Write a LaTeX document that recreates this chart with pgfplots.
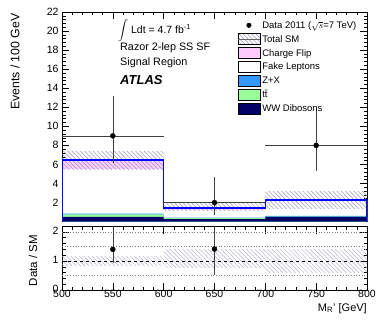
\documentclass[border=0pt]{standalone}
\usepackage{fontspec}
\setmainfont{Liberation Sans}
\usepackage{pgfplots}
\pgfplotsset{compat=1.18}
\usetikzlibrary{patterns.meta}

\definecolor{cfpink}{RGB}{255,204,255}
\definecolor{zxblue}{RGB}{51,153,255}
\definecolor{ttgreen}{RGB}{153,255,153}
\definecolor{wwnavy}{RGB}{0,0,102}
\definecolor{hatchc}{RGB}{150,150,200}

\pgfplotsset{
  rootstyle/.style={
    scale only axis, width=305pt,
    xmin=500, xmax=800,
    tick align=inside, major tick length=7pt, minor tick length=3.5pt,
    tick style={black, line width=0.5pt},
    axis line style={line width=0.8pt},
    ticklabel style={font=\fontsize{10.5}{12}\selectfont},
    /pgf/number format/assume math mode=true,
    xtick={500,550,...,800}, minor x tick num=4,
  },
}

\begin{document}
\begin{tikzpicture}
\useasboundingbox (0,0) rectangle (390pt,321pt);

% upper panel
\begin{axis}[rootstyle,
  at={(62pt,99.4pt)}, anchor=south west, height=209.6pt,
  ymin=0, ymax=22,
  ytick={2,4,...,22}, minor ytick={0,0.4,...,22},
  xticklabels={},
  legend style={at={(0.565,0.975)}, anchor=north west, draw=none, fill=none,
    font=\fontsize{9.5}{11}\selectfont, row sep=1.3pt},
  legend cell align=left,
]
% stacked backgrounds, drawn as cumulative tops
\addplot[forget plot, const plot, fill=cfpink, draw=none]
  coordinates {(500,6.44) (600,1.42) (700,2.28) (800,2.28)} \closedcycle;
\addplot[forget plot, const plot, fill=white, draw=none]
  coordinates {(500,5.5) (600,1.22) (700,2.28) (800,2.28)} \closedcycle;
\addplot[forget plot, const plot, fill=zxblue, draw=none]
  coordinates {(500,0.85) (600,0.42) (700,0.6) (800,0.6)} \closedcycle;
\addplot[forget plot, const plot, fill=ttgreen, draw=none]
  coordinates {(500,0.77) (600,0.38) (700,0.52) (800,0.52)} \closedcycle;
\addplot[forget plot, const plot, fill=wwnavy, draw=none]
  coordinates {(500,0.5) (600,0.25) (700,0.5) (800,0.5)} \closedcycle;

% total SM uncertainty band
\addplot[forget plot, draw=none, pattern={Lines[angle=-45,distance=3pt,line width=0.5pt]}, pattern color=hatchc]
  coordinates {(500,5.5) (600,5.5) (600,7.4) (500,7.4)} -- cycle;
\addplot[forget plot, draw=none, pattern={Lines[angle=-45,distance=3pt,line width=0.5pt]}, pattern color=hatchc]
  coordinates {(600,1.15) (700,1.15) (700,2.0) (600,2.0)} -- cycle;
\addplot[forget plot, draw=none, pattern={Lines[angle=-45,distance=3pt,line width=0.5pt]}, pattern color=hatchc]
  coordinates {(700,1.4) (800,1.4) (800,3.2) (700,3.2)} -- cycle;

% total SM
\addplot[forget plot, blue, line width=1.6pt]
  coordinates {(500,0) (500,6.44) (600,6.44) (600,1.42) (700,1.42) (700,2.28) (800,2.28) (800,0)};

% data
\addplot[forget plot, only marks, mark=*, mark size=2.5pt, black,
  error bars/.cd, x dir=both, x explicit, y dir=both, y explicit,
  error mark=none, error bar style={line width=0.6pt, black!75}]
  coordinates {
    (550,9) += (50,4.2) -= (50,2.9)
    (650,2) += (50,2.64) -= (50,1.29)
    (750,8) += (50,3.8) -= (50,2.7)
  };

\addlegendimage{legend image code/.code={\fill[black] (11pt,0.5pt) circle (2.3pt);}}
\addlegendentry{Data 2011 ($\sqrt{s}$=7 TeV)}
\addlegendimage{legend image code/.code={\fill[pattern={Lines[angle=-45,distance=3pt,line width=0.5pt]}, pattern color=hatchc] (0pt,-5pt) rectangle (22pt,6pt); \draw[black!60, line width=0.8pt] (0pt,0.5pt) -- (22pt,0.5pt);}}
\addlegendentry{Total SM}
\addlegendimage{legend image code/.code={\draw[fill=cfpink, draw=black, line width=0.6pt] (0pt,-5pt) rectangle (22pt,6pt);}}
\addlegendentry{Charge Flip}
\addlegendimage{legend image code/.code={\draw[fill=white, draw=black, line width=0.6pt] (0pt,-5pt) rectangle (22pt,6pt);}}
\addlegendentry{Fake Leptons}
\addlegendimage{legend image code/.code={\draw[fill=zxblue, draw=black, line width=0.6pt] (0pt,-5pt) rectangle (22pt,6pt);}}
\addlegendentry{Z+X}
\addlegendimage{legend image code/.code={\draw[fill=ttgreen, draw=black, line width=0.6pt] (0pt,-5pt) rectangle (22pt,6pt);}}
\addlegendentry{t\={t}}
\addlegendimage{legend image code/.code={\draw[fill=wwnavy, draw=black, line width=0.6pt] (0pt,-5pt) rectangle (22pt,6pt);}}
\addlegendentry{WW Dibosons}
\end{axis}

% ratio panel
\begin{axis}[rootstyle,
  at={(62pt,31pt)}, anchor=south west, height=63.3pt,
  ymin=0, ymax=2.18,
  ytick={0,1,2}, minor ytick={0.2,0.4,0.6,0.8,1.2,1.4,1.6,1.8,2.2},
  xticklabel style={/pgf/number format/1000 sep=, yshift=3pt},
  yticklabel style={yshift=1pt},
]
\addplot[draw=none, pattern={Lines[angle=-45,distance=3pt,line width=0.5pt]}, pattern color=hatchc!70]
  coordinates {(500,0.85) (600,0.85) (600,1.15) (500,1.15)} -- cycle;
\addplot[draw=none, pattern={Lines[angle=-45,distance=3pt,line width=0.5pt]}, pattern color=hatchc!70]
  coordinates {(600,0.79) (700,0.79) (700,1.38) (600,1.38)} -- cycle;
\addplot[draw=none, pattern={Lines[angle=-45,distance=3pt,line width=0.5pt]}, pattern color=hatchc!70]
  coordinates {(700,0.61) (800,0.61) (800,1.4) (700,1.4)} -- cycle;
\addplot[black!50, dotted, line width=0.7pt] coordinates {(500,0.5) (800,0.5)};
\addplot[black!50, dotted, line width=0.7pt] coordinates {(500,1.5) (800,1.5)};
\addplot[black!50, dotted, line width=0.7pt] coordinates {(500,2) (800,2)};
\addplot[black, dashed, line width=0.6pt] coordinates {(500,1) (800,1)};
\addplot[only marks, mark=*, mark size=2.5pt, black,
  error bars/.cd, y dir=both, y explicit,
  error mark=none, error bar style={line width=0.6pt, black!75}]
  coordinates {
    (550,1.4) += (0,1.6) -= (0,0.46)
    (650,1.41) += (0,1.9) -= (0,0.91)
    (750,3.5) += (0,1.7) -= (0,1.2)
  };
\end{axis}

% labels and text
\node[rotate=90, anchor=east, font=\fontsize{12.3}{14}\selectfont] at (15pt,311pt) {Events / 100 GeV};
\node[rotate=90, anchor=center, font=\fontsize{11.5}{13}\selectfont] at (33pt,60.5pt) {Data / SM};
\node[anchor=north east, font=\fontsize{11}{13}\selectfont, inner sep=0pt] at (367pt,18pt) {M\textsubscript{R}' [GeV]};

\node[anchor=west, inner sep=0pt, font=\fontsize{10.5}{12}\selectfont] at (118pt,290pt) {$\displaystyle\int$ Ldt = 4.7 fb\textsuperscript{-1}};
\node[anchor=west, inner sep=0pt, font=\fontsize{10.8}{12}\selectfont] at (120pt,273pt) {Razor 2-lep SS SF};
\node[anchor=west, inner sep=0pt, font=\fontsize{10.8}{12}\selectfont] at (120pt,258pt) {Signal Region};
\node[anchor=west, inner sep=0pt, font=\fontsize{13}{15}\selectfont\bfseries\itshape] at (120pt,241pt) {ATLAS};
\end{tikzpicture}
\end{document}
